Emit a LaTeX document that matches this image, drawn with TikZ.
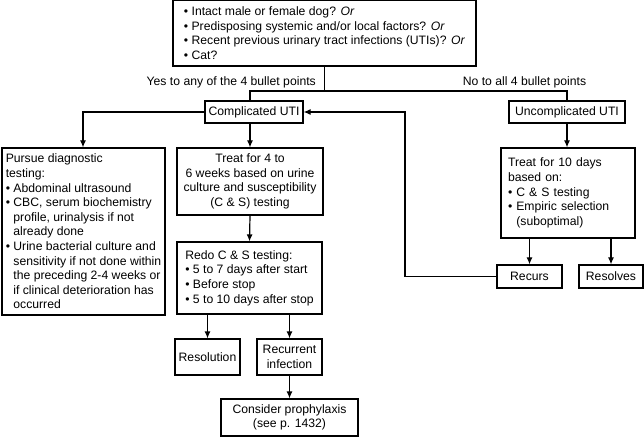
\documentclass[tikz,border=0pt]{standalone}
\usepackage{fontspec}
\setmainfont{Liberation Sans}
\usetikzlibrary{arrows.meta}
\newcommand{\bul}{\textbullet\ }
\newcommand{\ind}{\hphantom{\textbullet\ }}
\begin{document}
\begin{tikzpicture}[x=1bp,y=-1bp,
  every node/.style={font=\fontsize{12.2bp}{14.6bp}\selectfont, inner sep=0pt},
  box/.style={draw, line width=1.2bp},
  arr/.style={-{Latex[length=7bp,width=6bp]}, line width=1.2bp},
  ln/.style={line width=1.2bp}]
\useasboundingbox (0,0) rectangle (644,437);

% boxes
\node[box, minimum width=303bp, minimum height=65.4bp, align=left] (top) at (324.5,33.3)
 {\bul Intact male or female dog? \textit{Or}\\
  \bul Predisposing systemic and/or local factors? \textit{Or}\\
  \bul Recent previous urinary tract infections (UTIs)? \textit{Or}\\
  \bul Cat?};
\node[box, minimum width=98bp, minimum height=22bp] (comp) at (254,112) {Complicated UTI};
\node[box, minimum width=116bp, minimum height=22bp] (uncomp) at (567,112) {Uncomplicated UTI};
\node[box, minimum width=163bp, minimum height=167bp, align=left] (pursue) at (83.5,231.5)
 {Pursue diagnostic\\
  testing:\\
  \bul Abdominal ultrasound\\
  \bul CBC, serum biochemistry\\
  \ind profile, urinalysis if not\\
  \ind already done\\
  \bul Urine bacterial culture and\\
  \ind sensitivity if not done within\\
  \ind the preceding 2-4 weeks or\\
  \ind if clinical deterioration has\\
  \ind occurred};
\node[box, minimum width=146bp, minimum height=67bp, align=center] (treat) at (250,181.5)
 {Treat for 4 to\\
  6 weeks based on urine\\
  culture and susceptibility\\
  (C \& S) testing};
\node[box, minimum width=145bp, minimum height=72bp, align=left] (redo) at (249.5,278)
 {Redo C \& S testing:\\
  \bul 5 to 7 days after start\\
  \bul Before stop\\
  \bul 5 to 10 days after stop};
\node[box, minimum width=65bp, minimum height=36bp] (resol) at (207.5,357) {Resolution};
\node[box, minimum width=65bp, minimum height=36bp, align=center] (recinf) at (289.5,357) {Recurrent\\infection};
\node[box, minimum width=137bp, minimum height=37bp, align=center] (proph) at (289.5,417.5) {Consider prophylaxis\\(see p. 1432)};
\node[box, minimum width=134bp, minimum height=90bp, text width=120bp, align=left] (rtreat) at (568,193)
 {Treat for 10 days\\
  based on:\\
  \bul C \& S testing\\
  \bul Empiric selection\\
  \ind (suboptimal)};
\node[box, minimum width=65bp, minimum height=23bp] (recurs) at (529.5,276.5) {Recurs};
\node[box, minimum width=64bp, minimum height=23bp] (resolves) at (611,276.5) {Resolves};

% labels
\node[anchor=east] (yes) at (316,82) {Yes to any of the 4 bullet points};
\node (no) at (524.5,82) {No to all 4 bullet points};

% coordinates
\coordinate (jY) at (250,91);
\coordinate (jN) at (567,91);
\coordinate (jL) at (83,112);
\coordinate (jR) at (405,276.5);

% connectors
\draw[ln] (top.south) -- (top.south |- jY);
\draw[ln] (comp.north -| jY) -- (jY) -- (jN) -- (uncomp.north);
\draw[arr] (comp.west) -- (jL) -- (pursue.north -| jL);
\draw[arr] (comp.south -| treat.north) -- (treat.north);
\draw[arr] (treat.south) -- (redo.north);
\draw[arr] (redo.south -| resol.north) -- (resol.north);
\draw[arr] (redo.south -| recinf.north) -- (recinf.north);
\draw[arr] (recinf.south) -- (proph.north);
\draw[arr] (uncomp.south) -- (rtreat.north -| uncomp.south);
\draw[arr] (rtreat.south -| recurs.north) -- (recurs.north);
\draw[arr] (rtreat.south -| resolves.north) -- (resolves.north);
\draw[arr] (recurs.west) -- (jR) -- (jR |- comp.east) -- (comp.east);
\end{tikzpicture}
\end{document}
